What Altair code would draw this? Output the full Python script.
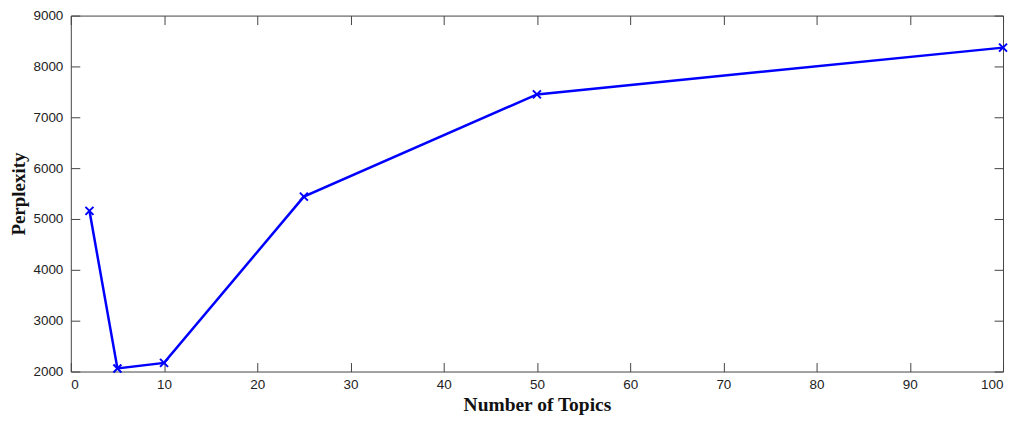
import altair as alt
import pandas as pd

# ---- data ----
topics = [2, 5, 10, 25, 50, 100]
perplexity = [5160, 2060, 2170, 5440, 7450, 8370]
x_ticks = [0, 10, 20, 30, 40, 50, 60, 70, 80, 90, 100]
y_ticks = [2000, 3000, 4000, 5000, 6000, 7000, 8000, 9000]

df = pd.DataFrame({"topics": topics, "perplexity": perplexity})

W, H = 935, 357
AX = "#444444"
LBL = "#222222"
TICK = 9
BLUE = "#0000FF"
LFONT = "Liberation Sans"
TFONT = "Liberation Serif"

xscale = alt.Scale(domain=[0, 100], nice=False, zero=False)
yscale = alt.Scale(domain=[2000, 9000], nice=False, zero=False)

base = alt.Chart(df)

# layer 1: line + label axes
line = base.mark_line(color=BLUE, strokeWidth=2.5).encode(
    x=alt.X("topics:Q", scale=xscale,
            axis=alt.Axis(orient="bottom", values=x_ticks, format="d",
                          ticks=False, tickSize=0, domain=False, grid=False,
                          labelPadding=6, labelFont=LFONT, labelFontSize=13.5,
                          labelColor=LBL,
                          title="Number of Topics", titleFont=TFONT,
                          titleFontSize=19.5, titleFontWeight="bold",
                          titleColor="#111111", titleY=39,
                          titleBaseline="alphabetic")),
    y=alt.Y("perplexity:Q", scale=yscale,
            axis=alt.Axis(orient="left", values=y_ticks, format="d",
                          ticks=False, tickSize=0, domain=False, grid=False,
                          labelPadding=8, labelFont=LFONT, labelFontSize=13.5,
                          labelColor=LBL,
                          title="Perplexity", titleFont=TFONT,
                          titleFontSize=19, titleFontWeight="bold",
                          titleColor="#111111", titleX=-52, titleY=H / 2,
                          titleAngle=270, titleBaseline="middle",
                          titleAlign="center")),
)

# layer 2: x markers + inward ticks bottom/left
pts = base.mark_point(
    shape="M-1,-1L1,1M-1,1L1,-1", filled=False, stroke=BLUE,
    strokeWidth=2, size=64, opacity=1,
).encode(
    x=alt.X("topics:Q", scale=xscale,
            axis=alt.Axis(orient="bottom", values=x_ticks, labels=False,
                          domain=False, grid=False, ticks=True, tickSize=TICK,
                          tickColor=AX, offset=-TICK, title=None)),
    y=alt.Y("perplexity:Q", scale=yscale,
            axis=alt.Axis(orient="left", values=y_ticks, labels=False,
                          domain=False, grid=False, ticks=True, tickSize=TICK,
                          tickColor=AX, offset=-TICK, title=None)),
)

# layer 3: invisible, carries inward ticks top/right
ghost = base.mark_line(strokeOpacity=0).encode(
    x=alt.X("topics:Q", scale=xscale,
            axis=alt.Axis(orient="top", values=x_ticks, labels=False,
                          domain=False, grid=False, ticks=True, tickSize=TICK,
                          tickColor=AX, offset=-TICK, title=None)),
    y=alt.Y("perplexity:Q", scale=yscale,
            axis=alt.Axis(orient="right", values=y_ticks, labels=False,
                          domain=False, grid=False, ticks=True, tickSize=TICK,
                          tickColor=AX, offset=-TICK, title=None)),
)

chart = (
    alt.layer(ghost, line, pts)
    .resolve_axis(x="independent", y="independent")
    .properties(
        width=W, height=H,
        padding={"left": 63, "top": 7, "right": 10, "bottom": 43},
        autosize=alt.AutoSizeParams(type="none"),
        background="white",
    )
    .configure_view(stroke=AX, strokeWidth=1)
)

chart.save("out.html", embed_options={"renderer": "svg", "actions": False})
